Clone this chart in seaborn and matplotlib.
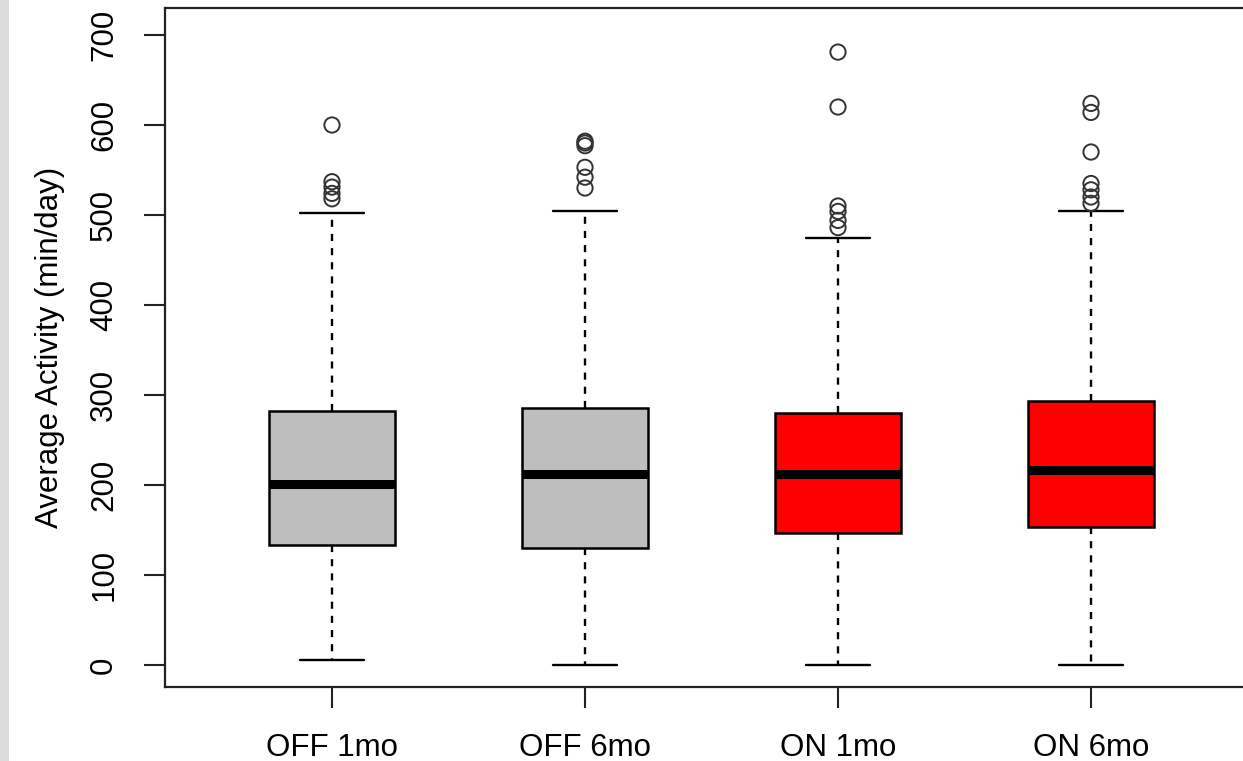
import numpy as np
import pandas as pd
import matplotlib
matplotlib.use("Agg")
import matplotlib.pyplot as plt
from matplotlib.patches import Rectangle
import seaborn as sns

# ---- data ----
groups = ["OFF 1mo", "OFF 6mo", "ON 1mo", "ON 6mo"]
whisker_low = [6, 0, 0, 0]
q1 = [133, 130, 147, 153]
median = [201, 212, 212, 217]
q3 = [282, 286, 280, 293]
whisker_high = [502, 505, 475, 505]
outliers_off1 = [600, 537, 531, 524, 518]
outliers_off6 = [582, 580, 577, 553, 542, 530]
outliers_on1 = [681, 620, 510, 504, 494, 486]
outliers_on6 = [624, 614, 570, 535, 528, 520, 513]
colors = ["#bebebe", "#bebebe", "#ff0000", "#ff0000"]
y_ticks = [0, 100, 200, 300, 400, 500, 600, 700]

# five-number summaries -> long table (quartiles of 5 points are exact)
rows = []
for g, lo, a, m, b, hi in zip(groups, whisker_low, q1, median, q3, whisker_high):
    for v in (lo, a, m, b, hi):
        rows.append({"group": g, "value": v})
box_df = pd.DataFrame(rows)

out_rows = []
for g, vals in zip(groups, [outliers_off1, outliers_off6, outliers_on1, outliers_on6]):
    for v in vals:
        out_rows.append({"group": g, "value": v})
out_df = pd.DataFrame(out_rows)

sns.set_style("ticks")
plt.rcParams["font.family"] = ["Liberation Sans", "DejaVu Sans"]
plt.rcParams["text.color"] = "black"
plt.rcParams["axes.labelcolor"] = "black"
plt.rcParams["xtick.color"] = "black"
plt.rcParams["ytick.color"] = "black"

fig = plt.figure(figsize=(12.43, 7.61), dpi=100)
fig.patches.append(Rectangle((0, 0), 9 / 1243, 1, transform=fig.transFigure,
                             facecolor="#dcdcdc", edgecolor="none", zorder=0))
ax = fig.add_axes([165 / 1243, 74 / 761, 1093 / 1243, 679 / 761])

palette = dict(zip(groups, colors))
sns.boxplot(data=box_df, x="group", y="value", hue="group", order=groups,
            palette=palette, saturation=1, dodge=False, legend=False,
            width=0.5, whis=(0, 100), showfliers=False, linecolor="black",
            linewidth=1.8, ax=ax,
            medianprops={"linewidth": 6.5, "color": "black"},
            whiskerprops={"linestyle": (0, (3, 3)), "linewidth": 1.7},
            capprops={"linewidth": 1.7})

sns.stripplot(data=out_df, x="group", y="value", order=groups, jitter=False,
              color="white", edgecolor="#333333", linewidth=1.4, size=11,
              marker="o", ax=ax, zorder=3)
for coll in ax.collections:
    coll.set_facecolor("none")

ax.set_xlim(-0.66, 3.66)
ax.set_ylim(-24.4, 730)
ax.set_yticks(y_ticks)
ax.set_yticklabels([str(t) for t in y_ticks], rotation=90, va="center")
ax.tick_params(axis="both", length=15, width=1.5, color="#222222",
               labelcolor="black", labelsize=22.5, pad=18)
ax.set_xlabel("")
ax.set_ylabel("Average Activity (min/day)", fontsize=22.5, color="black")
ax.yaxis.set_label_coords(-0.0915, 0.5)
for s in ax.spines.values():
    s.set_visible(True)
    s.set_linewidth(1.6)
    s.set_color("#222222")

fig.savefig("out.png", dpi=100)
